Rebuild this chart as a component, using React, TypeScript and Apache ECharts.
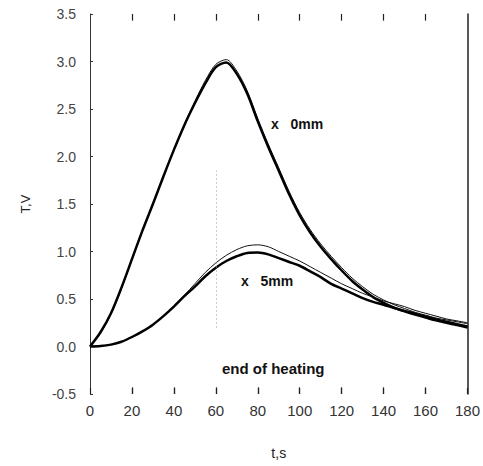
import React, { useEffect, useRef } from "react";
import * as echarts from "echarts";

const times = [0,5,10,15,20,25,30,35,40,45,50,55,60,65,70,75,80,85,90,95,100,105,110,115,120,125,130,135,140,145,150,155,160,165,170,175,180];

const meas0mm = [0,0.15,0.35,0.62,0.92,1.22,1.5,1.79,2.07,2.33,2.56,2.77,2.94,2.99,2.87,2.66,2.37,2.1,1.85,1.6,1.38,1.2,1.05,0.92,0.8,0.69,0.6,0.52,0.46,0.41,0.37,0.335,0.305,0.275,0.25,0.225,0.2];
const calc0mm = [0,0.14,0.34,0.61,0.91,1.21,1.5,1.79,2.07,2.34,2.58,2.8,2.97,3.02,2.9,2.69,2.4,2.13,1.88,1.63,1.41,1.23,1.08,0.95,0.83,0.72,0.63,0.55,0.49,0.44,0.4,0.36,0.33,0.3,0.28,0.26,0.24];
const meas5mm = [0,0.005,0.02,0.05,0.1,0.16,0.23,0.32,0.42,0.53,0.63,0.74,0.83,0.9,0.95,0.985,0.99,0.97,0.93,0.89,0.85,0.79,0.73,0.66,0.61,0.56,0.51,0.47,0.44,0.405,0.375,0.345,0.315,0.285,0.26,0.235,0.21];
const calc5mm = [0,0.005,0.02,0.05,0.1,0.16,0.23,0.32,0.43,0.54,0.66,0.78,0.88,0.96,1.02,1.06,1.07,1.05,1.0,0.95,0.9,0.84,0.78,0.72,0.66,0.61,0.56,0.52,0.48,0.45,0.42,0.38,0.35,0.32,0.29,0.27,0.25];

const xTicks = [20,40,60,80,100,120,140,160];
const yMin = -0.5;
const yMax = 3.5;
const tickLen = 0.07;
const heatingEnd = 60;

const pairs = (vals: number[]) => times.map((t, i) => [t, vals[i]]);

export default function App() {
  const ref = useRef<HTMLDivElement>(null);
  useEffect(() => {
    if (!ref.current) return;
    const chart = echarts.init(ref.current, null, { renderer: "svg" });
    const font = "'Liberation Sans', Arial, sans-serif";
    const tickSegments: any[] = [];
    xTicks.forEach((t) => {
      tickSegments.push([{ coord: [t, yMin] }, { coord: [t, yMin + tickLen] }]);
      tickSegments.push([{ coord: [t, yMax] }, { coord: [t, yMax - tickLen] }]);
    });
    chart.setOption({
      animation: false,
      backgroundColor: "#ffffff",
      grid: { left: 90, right: 14, top: 14, bottom: 72, containLabel: false },
      xAxis: [
        {
          type: "value", min: 0, max: 180, interval: 20, position: "bottom",
          name: "t,s", nameLocation: "middle", nameGap: 52,
          nameTextStyle: { fontFamily: font, fontSize: 14, color: "#222" },
          axisLine: { show: true, onZero: false, lineStyle: { color: "rgba(255,255,255,0)", width: 1 } },
          axisTick: { show: true, inside: true, length: 6, lineStyle: { color: "#222", width: 1.2 } },
          axisLabel: { fontFamily: font, fontSize: 15, color: "#333", margin: 9 },
          splitLine: { show: false },
        },
      ],
      yAxis: [
        {
          type: "value", min: yMin, max: yMax, interval: 0.5, position: "left",
          name: "T,V", nameLocation: "middle", nameGap: 58, nameRotate: 90,
          nameTextStyle: { fontFamily: font, fontSize: 13, color: "#222" },
          axisLine: { show: true, onZero: false, lineStyle: { color: "#333", width: 1 } },
          axisTick: { show: true, inside: true, length: 3, lineStyle: { color: "#333" } },
          axisLabel: { fontFamily: font, fontSize: 14, color: "#444", margin: 14, formatter: (v: number) => v.toFixed(1) },
          splitLine: { show: false },
        },
        {
          type: "value", min: yMin, max: yMax, interval: 0.5, position: "right",
          axisLine: { show: true, onZero: false, lineStyle: { color: "#222", width: 1.5 } },
          axisTick: { show: false },
          axisLabel: { show: false },
          splitLine: { show: false },
        },
      ],
      series: [
        {
          name: "0mm calc", type: "line", data: pairs(calc0mm), smooth: 0.3, symbol: "none",
          lineStyle: { color: "#111", width: 1 },
          clip: false,
          markLine: {
            silent: true, symbol: "none", label: { show: false },
            lineStyle: { color: "#222", type: "solid", width: 1.2 },
            data: tickSegments,
          },
        },
        {
          name: "0mm measured", type: "line", data: pairs(meas0mm), smooth: 0.3, symbol: "none",
          lineStyle: { color: "#000", width: 2.5 },
          markLine: {
            silent: true, symbol: "none", label: { show: false },
            lineStyle: { color: "#999", type: [1, 3], width: 1 },
            data: [[{ coord: [heatingEnd, 0.2] }, { coord: [heatingEnd, 1.85] }]],
          },
        },
        {
          name: "5mm calc", type: "line", data: pairs(calc5mm), smooth: 0.3, symbol: "none",
          lineStyle: { color: "#111", width: 1 },
        },
        {
          name: "5mm measured", type: "line", data: pairs(meas5mm), smooth: 0.3, symbol: "none",
          lineStyle: { color: "#000", width: 2.5 },
        },
      ],
      graphic: [
        { type: "text", left: 271, top: 117, style: { text: "x   0mm", fontFamily: font, fontSize: 14, fontWeight: "bold", fill: "#111" } },
        { type: "text", left: 241, top: 274, style: { text: "x   5mm", fontFamily: font, fontSize: 14, fontWeight: "bold", fill: "#111" } },
        { type: "text", left: 222, top: 361, style: { text: "end of heating", fontFamily: font, fontSize: 15, fontWeight: "bold", fill: "#111" } },
      ],
    });
    return () => chart.dispose();
  }, []);
  return <div ref={ref} style={{ position: "fixed", left: 0, top: 0, width: 483, height: 466 }} />;
}
